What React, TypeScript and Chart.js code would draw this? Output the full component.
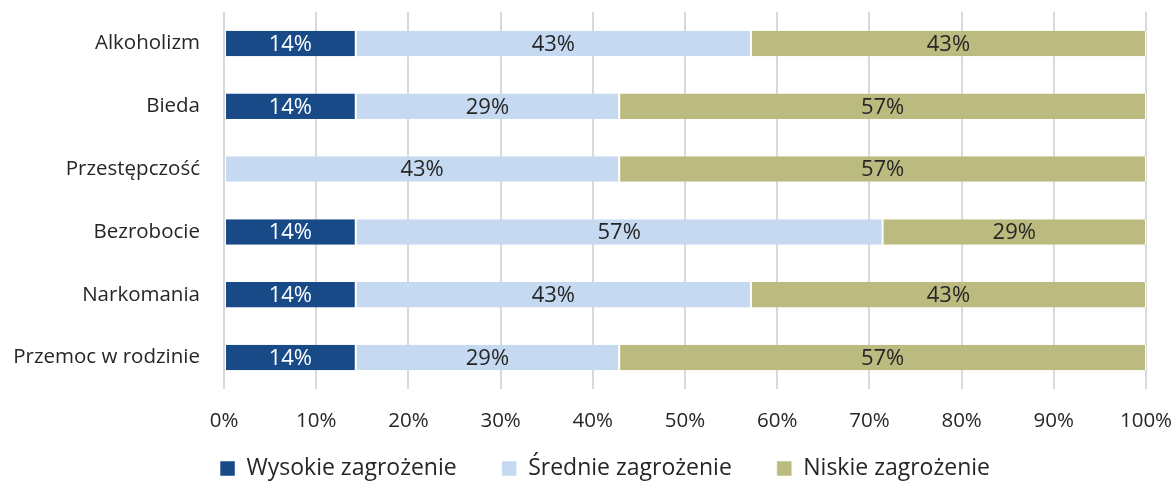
import React, { useEffect, useRef } from "react";
import { Chart, registerables } from "chart.js";

Chart.register(...registerables);

const categories = ["Alkoholizm", "Bieda", "Przestępczość", "Bezrobocie", "Narkomania", "Przemoc w rodzinie"];
const seriesNames = ["Wysokie zagrożenie", "Średnie zagrożenie", "Niskie zagrożenie"];
const wysokie = [14.29, 14.29, 0, 14.29, 14.29, 14.29];
const srednie = [42.86, 28.57, 42.86, 57.14, 42.86, 28.57];
const niskie = [42.85, 57.14, 57.14, 28.57, 42.85, 57.14];
const xTicks = [0, 10, 20, 30, 40, 50, 60, 70, 80, 90, 100];
const colors = ["#174A87", "#C5D9F1", "#BBBB80"];
const labelColors = ["#FFFFFF", "#262626", "#262626"];

const FONT = "'Open Sans', sans-serif";
const LEGEND_SHIFT = 24;
const LEGEND_DX = 32;
const LEGEND_DY = 1;

const dataLabelPlugin = {
  id: "dataLabels",
  afterDatasetsDraw(chart: any) {
    const ctx = chart.ctx;
    ctx.save();
    ctx.font = `22px ${FONT}`;
    ctx.textAlign = "center";
    ctx.textBaseline = "middle";
    chart.data.datasets.forEach((ds: any, di: number) => {
      const meta = chart.getDatasetMeta(di);
      meta.data.forEach((el: any, i: number) => {
        const v = ds.data[i];
        if (!v) return;
        const cx = (el.x + el.base) / 2;
        ctx.fillStyle = labelColors[di];
        ctx.fillText(Math.round(v) + "%", cx, el.y + 1);
      });
    });
    ctx.restore();
  },
};

// Keep wide horizontal spacing between legend items while using a tighter vertical gap
const legendTightPlugin = {
  id: "legendTight",
  beforeLayout(chart: any) {
    const lg = chart.legend;
    if (lg && !lg.__tight) {
      lg.__tight = true;
      const origFit = lg.fit.bind(lg);
      lg.fit = function () {
        origFit();
        this.height -= LEGEND_SHIFT;
      };
      const origDraw = lg.draw.bind(lg);
      lg.draw = function () {
        const t = this.top, l = this.left, r = this.right;
        this.top = t - LEGEND_SHIFT + LEGEND_DY;
        this.left = l + LEGEND_DX;
        this.right = r + LEGEND_DX;
        origDraw();
        this.top = t;
        this.left = l;
        this.right = r;
      };
    }
  },
};

export default function App() {
  const ref = useRef<HTMLCanvasElement>(null);
  useEffect(() => {
    document.body.style.margin = "0";
    const c = new Chart(ref.current!, {
      type: "bar",
      data: {
        labels: categories,
        datasets: [wysokie, srednie, niskie].map((d, i) => ({
          label: seriesNames[i],
          data: d,
          backgroundColor: colors[i],
          borderColor: "#FFFFFF",
          borderWidth: { left: 1, right: 1, top: 0, bottom: 0 } as any,
          borderSkipped: false,
          categoryPercentage: 1,
          barPercentage: 0.405,
        })),
      },
      options: {
        indexAxis: "y",
        animation: false,
        responsive: true,
        maintainAspectRatio: false,
        layout: { padding: { top: 12, right: 30, left: 0, bottom: 0 } },
        scales: {
          x: {
            stacked: true,
            min: 0,
            max: 100,
            afterBuildTicks: (s: any) => {
              s.ticks = xTicks.map((v) => ({ value: v }));
            },
            afterFit: (s: any) => {
              s.height = 46;
              s.paddingLeft = 0;
              s.paddingRight = 0;
            },
            ticks: {
              callback: (v: any) => v + "%",
              color: "#262626",
              font: { family: FONT, size: 20.5 },
              padding: 20,
              maxRotation: 0,
            },
            grid: { color: "#D9D9D9", lineWidth: 2, drawTicks: false },
            border: { display: false },
          },
          y: {
            stacked: true,
            afterFit: (s: any) => {
              s.width = 224;
              s.paddingTop = 0;
              s.paddingBottom = 0;
            },
            ticks: {
              color: "#262626",
              font: { family: FONT, size: 20.5 },
              padding: 16,
            },
            grid: { display: false },
            border: { display: false },
          },
        },
        plugins: {
          legend: {
            position: "bottom",
            labels: {
              color: "#262626",
              font: { family: FONT, size: 23 },
              boxWidth: 15,
              boxHeight: 15,
              padding: 45,
            },
          },
          tooltip: { enabled: false },
        },
      },
      plugins: [legendTightPlugin, dataLabelPlugin],
    });
    return () => c.destroy();
  }, []);
  return (
    <div style={{ width: 1176, height: 489, position: "relative" }}>
      <canvas ref={ref} />
    </div>
  );
}
